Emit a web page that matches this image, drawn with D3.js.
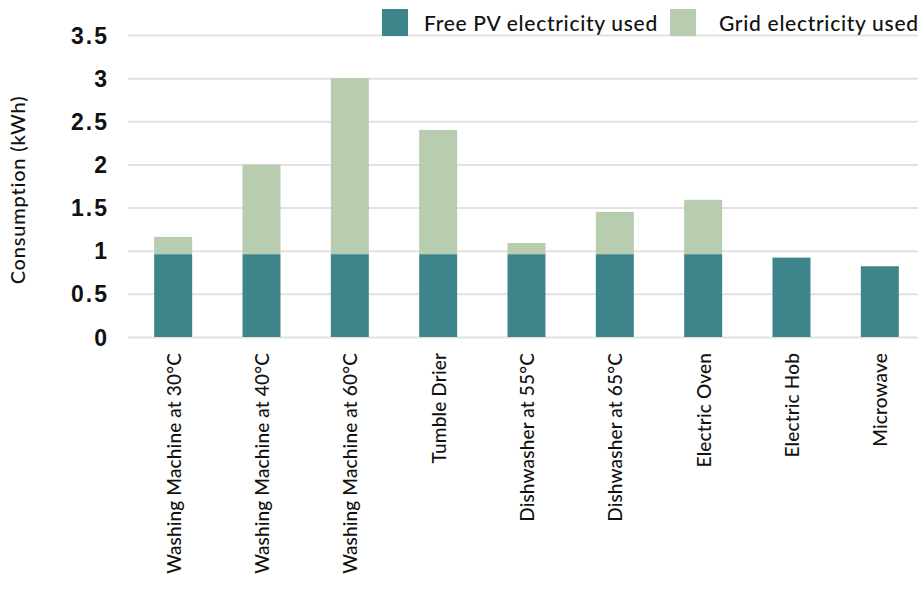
<!DOCTYPE html>
<html>
<head>
<meta charset="utf-8">
<script src="https://cdn.jsdelivr.net/npm/d3@7/dist/d3.min.js"></script>
<style>
  html, body { margin: 0; padding: 0; background: #fff; }
  svg { display: block; font-family: Lato, "Noto Sans", sans-serif; }
</style>
</head>
<body>
<svg id="chart" width="924" height="589"></svg>
<script>
// Appliance energy use, split into free PV and grid electricity (kWh)
const categories = [
  "Washing Machine at 30°C",
  "Washing Machine at 40°C",
  "Washing Machine at 60°C",
  "Tumble Drier",
  "Dishwasher at 55°C",
  "Dishwasher at 65°C",
  "Electric Oven",
  "Electric Hob",
  "Microwave"
];
const pvUsed   = [0.96, 0.96, 0.96, 0.96, 0.96, 0.96, 0.96, 0.92, 0.82];
const gridUsed = [0.20, 1.04, 2.04, 1.44, 0.13, 0.49, 0.63, 0.00, 0.00];
const seriesNames = ["Free PV electricity used", "Grid electricity used"];
const seriesKeys = ["pv", "grid"];
const yTicks = [0, 0.5, 1, 1.5, 2, 2.5, 3, 3.5];
const yTickLabels = ["0", "0.5", "1", "1.5", "2", "2.5", "3", "3.5"];
const yTitle = "Consumption (kWh)";

const colors = { pv: "#3d858b", grid: "#b8ccb0" };

const rows = categories.map((c, i) => ({ category: c, pv: pvUsed[i], grid: gridUsed[i] }));
const stacked = d3.stack().keys(seriesKeys)(rows);

const svg = d3.select("#chart");

const plot = { left: 128, right: 918, top: 35, bottom: 337 };

const x = d3.scaleBand()
  .domain(categories)
  .range([129, 924])
  .paddingInner(0.57)
  .paddingOuter(0.285);

const y = d3.scaleLinear()
  .domain([0, 3.5])
  .range([plot.bottom, plot.top]);

// Horizontal gridlines with tick labels
const yAxis = svg.append("g")
  .attr("transform", `translate(${plot.left},0)`)
  .call(d3.axisLeft(y)
    .tickValues(yTicks)
    .tickFormat((d, i) => yTickLabels[i])
    .tickSize(-(plot.right - plot.left))
    .tickPadding(19));
yAxis.select(".domain").remove();
yAxis.selectAll(".tick line")
  .attr("stroke", "#e2e2e2")
  .attr("stroke-width", 2);
yAxis.selectAll(".tick text")
  .attr("fill", "#111")
  .attr("font-size", 23)
  .attr("font-weight", 600)
  .attr("letter-spacing", 2)
  .attr("dy", "0.35em");

// Stacked bars
svg.append("g")
  .selectAll("g")
  .data(stacked)
  .join("g")
  .attr("fill", d => colors[d.key])
  .selectAll("rect")
  .data(d => d.filter(s => s[1] - s[0] > 0))
  .join("rect")
  .attr("x", d => x(d.data.category))
  .attr("width", x.bandwidth())
  .attr("y", d => y(d[1]))
  .attr("height", d => y(d[0]) - y(d[1]));

// Category labels, rotated
svg.append("g")
  .selectAll("text")
  .data(categories)
  .join("text")
  .attr("transform", d => `translate(${x(d) + x.bandwidth() / 2},353) rotate(-90)`)
  .attr("text-anchor", "end")
  .attr("dominant-baseline", "central")
  .attr("font-size", 19)
  .attr("font-weight", 500)
  .attr("letter-spacing", 0.15)
  .attr("fill", "#111")
  .text(d => d);

// Y axis title
svg.append("text")
  .attr("transform", "translate(17,190) rotate(-90)")
  .attr("text-anchor", "middle")
  .attr("dominant-baseline", "central")
  .attr("font-size", 20)
  .attr("font-weight", 500)
  .attr("letter-spacing", 0.8)
  .attr("fill", "#111")
  .text(yTitle);

// Legend
const legendX = [382, 670];
const legend = svg.append("g")
  .selectAll("g")
  .data(seriesKeys)
  .join("g")
  .attr("transform", (d, i) => `translate(${legendX[i]},9)`);
legend.append("rect")
  .attr("width", 26)
  .attr("height", 27)
  .attr("fill", d => colors[d]);
legend.append("text")
  .attr("x", (d, i) => i === 0 ? 42 : 49)
  .attr("y", 13)
  .attr("dominant-baseline", "central")
  .attr("font-size", 21)
  .attr("font-weight", 500)
  .attr("letter-spacing", 0.7)
  .attr("fill", "#111")
  .text((d, i) => seriesNames[i]);
</script>
</body>
</html>
